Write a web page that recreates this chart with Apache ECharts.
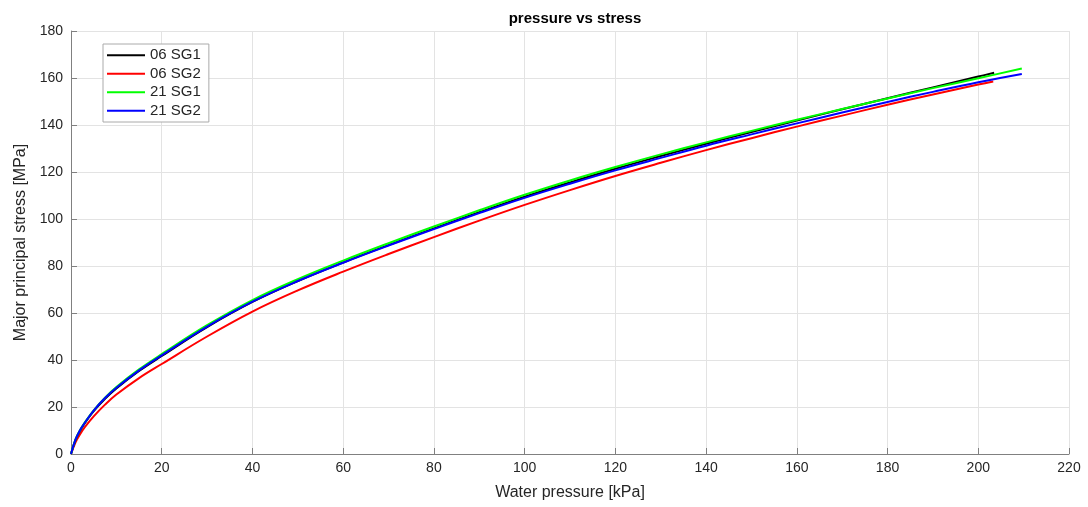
<!DOCTYPE html>
<html>
<head>
<meta charset="utf-8">
<script src="https://cdn.jsdelivr.net/npm/echarts@6/dist/echarts.min.js"></script>
<style>html,body{margin:0;padding:0;background:#fff}#c{width:1088px;height:507px}</style>
</head>
<body>
<div id="c"></div>
<script>
const seriesNames = ['06 SG1', '06 SG2', '21 SG1', '21 SG2'];
const seriesColors = ['#000000', '#ff0000', '#00ff00', '#0000ff'];
const xTicks = [0, 20, 40, 60, 80, 100, 120, 140, 160, 180, 200, 220];
const yTicks = [0, 20, 40, 60, 80, 100, 120, 140, 160, 180];

const x06SG1 = [0, 1, 2, 3, 5, 7.5, 10, 15, 20, 30, 40, 50, 60, 70, 80, 90, 100, 110, 120, 130, 140, 150, 160, 170, 180, 190, 200, 203.5];
const y06SG1 = [0, 6, 9.9, 13, 18.2, 23.5, 27.9, 35.3, 41.7, 54, 64.7, 73.6, 81.5, 88.9, 96, 102.9, 109.5, 115.6, 121.4, 126.8, 132, 137, 141.9, 146.7, 151.4, 156, 160.6, 162.2];

const x06SG2 = [0, 1, 2, 3, 5, 7.5, 10, 15, 20, 30, 40, 50, 60, 70, 80, 90, 100, 110, 120, 130, 140, 150, 160, 170, 180, 190, 200, 203.3];
const y06SG2 = [0, 5, 8.4, 11.3, 16, 21, 25.3, 32.3, 38.3, 50, 60.6, 69.6, 77.6, 85.1, 92.3, 99.3, 106, 112.3, 118.3, 123.9, 129.3, 134.4, 139.3, 144, 148.6, 153, 157.2, 158.5];

const x21SG1 = [0, 1, 2, 3, 5, 7.5, 10, 15, 20, 30, 40, 50, 60, 70, 80, 90, 100, 110, 120, 130, 140, 150, 160, 170, 180, 190, 200, 209.6];
const y21SG1 = [0, 6.2, 10.2, 13.3, 18.6, 24, 28.5, 36, 42.5, 54.8, 65.5, 74.4, 82.3, 89.7, 96.8, 103.7, 110.3, 116.4, 122.1, 127.5, 132.6, 137.5, 142.2, 146.8, 151.3, 155.7, 159.9, 164];

const x21SG2 = [0, 1, 2, 3, 5, 7.5, 10, 15, 20, 30, 40, 50, 60, 70, 80, 90, 100, 110, 120, 130, 140, 150, 160, 170, 180, 190, 200, 209.6];
const y21SG2 = [0, 6.2, 10.2, 13.2, 18.5, 23.8, 28.2, 35.6, 42, 54.2, 64.8, 73.6, 81.4, 88.7, 95.7, 102.5, 109, 115, 120.7, 126, 131.2, 136, 140.7, 145.3, 149.8, 154.1, 158.2, 161.7];

const xsAll = [x06SG1, x06SG2, x21SG1, x21SG2];
const ysAll = [y06SG1, y06SG2, y21SG1, y21SG2];

const chart = echarts.init(document.getElementById('c'), null, {renderer: 'canvas'});
const font = 'Liberation Sans, Arial, sans-serif';
const series = seriesNames.map((n, i) => ({
  name: n,
  type: 'line',
  data: xsAll[i].map((x, j) => [x, ysAll[i][j]]),
  showSymbol: false,
  symbol: 'none',
  smooth: 0.4,
  lineStyle: {color: seriesColors[i], width: 2},
  itemStyle: {color: seriesColors[i]},
  z: [3, 2, 4, 5][i]
}));

chart.setOption({
  animation: false,
  backgroundColor: '#ffffff',
  title: {
    text: 'pressure vs stress',
    left: 570, top: 6, textAlign: 'center',
    textStyle: {fontFamily: font, fontSize: 15, fontWeight: 'bold', color: '#000'}
  },
  legend: {
    data: seriesNames,
    orient: 'vertical',
    left: 103, top: 44,
    padding: [2, 8, 2, 4],
    itemWidth: 38, itemHeight: 2, itemGap: 0,
    icon: 'rect',
    backgroundColor: '#fff',
    borderColor: '#aaaaaa', borderWidth: 1,
    textStyle: {fontFamily: font, fontSize: 15, color: '#262626', lineHeight: 18.5, padding: [0, 0, 0, 0]}
  },
  grid: {left: 71, right: 19, top: 31, bottom: 53, containLabel: false},
  xAxis: {
    type: 'value', min: 0, max: 220, interval: 20,
    name: 'Water pressure [kPa]', nameLocation: 'middle', nameGap: 31,
    nameTextStyle: {fontFamily: font, fontSize: 16, color: '#262626'},
    axisLine: {show: true, lineStyle: {color: '#808080', width: 1}},
    axisTick: {show: true, inside: true, length: 6, lineStyle: {color: '#808080'}},
    axisLabel: {fontFamily: font, fontSize: 14, color: '#262626', margin: 7,
      formatter: v => xTicks.includes(v) ? String(v) : ''},
    splitLine: {show: true, lineStyle: {color: '#e3e3e3', width: 1}}
  },
  yAxis: {
    type: 'value', min: 0, max: 180, interval: 20,
    name: 'Major principal stress [MPa]', nameLocation: 'middle', nameGap: 42,
    nameTextStyle: {fontFamily: font, fontSize: 16, color: '#262626'},
    axisLine: {show: true, lineStyle: {color: '#808080', width: 1}},
    axisTick: {show: true, inside: true, length: 6, lineStyle: {color: '#808080'}},
    axisLabel: {fontFamily: font, fontSize: 14, color: '#262626', margin: 8,
      formatter: v => yTicks.includes(v) ? String(v) : ''},
    splitLine: {show: true, lineStyle: {color: '#e3e3e3', width: 1}}
  },
  series: series
});
</script>
</body>
</html>
